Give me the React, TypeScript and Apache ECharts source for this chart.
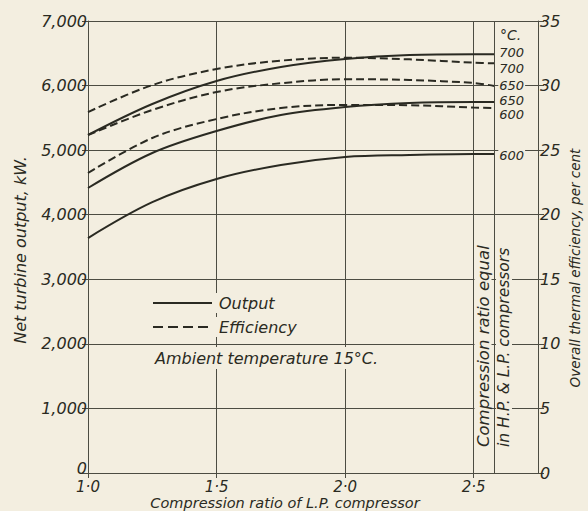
import React, { useEffect, useRef } from "react";
import * as echarts from "echarts";

// Compression ratio of L.P. compressor (x)
const ratios = [1.0, 1.25, 1.5, 1.75, 2.0, 2.25, 2.5, 2.58];
// Net turbine output, kW (left axis)
const output700 = [5235, 5715, 6071, 6288, 6412, 6473, 6484, 6484];
const output650 = [4414, 4956, 5296, 5544, 5668, 5730, 5745, 5745];
const output600 = [3639, 4194, 4553, 4770, 4894, 4925, 4940, 4940];
// Overall thermal efficiency, per cent (right axis)
const eff700 = [27.95, 30.04, 31.28, 31.93, 32.16, 32.03, 31.77, 31.72];
const eff650 = [26.17, 28.11, 29.5, 30.18, 30.49, 30.43, 30.2, 29.97];
const eff600 = [23.23, 25.94, 27.41, 28.26, 28.5, 28.48, 28.3, 28.26];

const xTickValues = [1.0, 1.5, 2.0, 2.5];
const equalRatio = 2.58;

const BG = "#f3eee0";
const INK = "#2a2a22";
const GRID = "#4c4c42";
const FONT = "DejaVu Sans";

const pts = (ys: number[]) => ratios.map((x, i) => [x, ys[i]]);

export default function App() {
  const ref = useRef<HTMLDivElement>(null);
  useEffect(() => {
    if (!ref.current) return;
    const chart = echarts.init(ref.current, null, { renderer: "svg" });
    const txt = { fontFamily: FONT, fontStyle: "italic" as const, fontSize: 16, color: INK };
    const endLabel = (t: string, dy: number) => ({
      show: true,
      formatter: t,
      distance: 4,
      offset: [0, dy],
      fontFamily: FONT,
      fontStyle: "italic",
      fontSize: 13,
      lineHeight: 10,
      color: INK,
      backgroundColor: BG,
      padding: [0, 1],
    });
    const solid = (name: string, data: number[], t: string, dy: number) => ({
      type: "line",
      name,
      data: pts(data),
      yAxisIndex: 0,
      smooth: 0.35,
      showSymbol: false,
      lineStyle: { color: INK, width: 2 },
      endLabel: endLabel(t, dy),
      z: 3,
    });
    const dashed = (name: string, data: number[], t: string, dy: number) => ({
      type: "line",
      name,
      data: pts(data),
      yAxisIndex: 1,
      smooth: 0.35,
      showSymbol: false,
      lineStyle: { color: INK, width: 2, type: [8, 4] },
      endLabel: endLabel(t, dy),
      z: 3,
    });
    const series: any[] = [
      solid("Output 700", output700, "700", -2),
      dashed("Efficiency 700", eff700, "700", 5),
      dashed("Efficiency 650", eff650, "650", 0),
      solid("Output 650", output650, "650", -2),
      dashed("Efficiency 600", eff600, "600", 6),
      solid("Output 600", output600, "600", 1),
    ];
    series[0].markLine = {
      silent: true,
      symbol: "none",
      label: { show: false },
      lineStyle: { color: GRID, width: 1, type: "solid" },
      data: [{ xAxis: equalRatio }],
    };

    chart.setOption({
      animation: false,
      backgroundColor: BG,
      grid: { left: 88, right: 50, top: 21, bottom: 38 },
      xAxis: {
        type: "value",
        min: 1.0,
        max: 2.75,
        interval: 0.25,
        axisLine: { show: true, lineStyle: { color: GRID, width: 1 } },
        axisTick: { show: true, length: 5, customValues: xTickValues, lineStyle: { color: GRID } },
        axisLabel: {
          ...txt,
          fontSize: 15,
          customValues: xTickValues,
          margin: 6,
          formatter: (v: number) => v.toFixed(1).replace(".", "·"),
        },
        splitLine: { show: true, lineStyle: { color: GRID, width: 1 } },
      },
      yAxis: [
        {
          type: "value",
          min: 0,
          max: 7000,
          interval: 1000,
          position: "left",
          axisLine: { show: true, lineStyle: { color: GRID, width: 1 } },
          axisTick: { show: true, length: 6, lineStyle: { color: GRID } },
          axisLabel: {
            ...txt,
            margin: 1,
            formatter: (v: number) => (v === 0 ? "{z|0}" : v.toLocaleString("en-US")),
            rich: { z: { fontFamily: FONT, fontStyle: "italic", fontSize: 16, color: INK, padding: [0, 0, 10, 0] } },
          },
          splitLine: { show: true, lineStyle: { color: GRID, width: 1 } },
        },
        {
          type: "value",
          min: 0,
          max: 35,
          interval: 5,
          position: "right",
          axisLine: { show: true, lineStyle: { color: GRID, width: 1 } },
          axisTick: { show: true, length: 6, lineStyle: { color: GRID } },
          axisLabel: { ...txt, margin: 2 },
          splitLine: { show: false },
        },
      ],
      series,
      graphic: [
        {
          type: "text",
          x: 20,
          y: 250,
          rotation: Math.PI / 2,
          style: { text: "Net turbine output, kW.", font: `italic 16px "${FONT}"`, fill: INK, align: "center", verticalAlign: "middle" },
        },
        {
          type: "text",
          x: 575,
          y: 268,
          rotation: Math.PI / 2,
          style: { text: "Overall thermal efficiency, per cent", font: `italic 13.5px "${FONT}"`, fill: INK, align: "center", verticalAlign: "middle" },
        },
        {
          type: "text",
          x: 285,
          y: 503,
          style: { text: "Compression ratio of L.P. compressor", font: `italic 14.5px "${FONT}"`, fill: INK, align: "center", verticalAlign: "middle" },
        },
        {
          type: "text",
          x: 483,
          y: 448,
          rotation: Math.PI / 2,
          z: 10,
          style: { text: "Compression ratio equal", font: `italic 16.5px "${FONT}"`, fill: INK, align: "left", verticalAlign: "middle", backgroundColor: BG, padding: [0, 1] },
        },
        {
          type: "text",
          x: 504,
          y: 448,
          rotation: Math.PI / 2,
          z: 10,
          style: { text: "in H.P. & L.P. compressors", font: `italic 15.5px "${FONT}"`, fill: INK, align: "left", verticalAlign: "middle", backgroundColor: BG, padding: [0, 1] },
        },
        {
          type: "text",
          x: 500,
          y: 35,
          z: 10,
          style: { text: "°C.", font: `italic 14px "${FONT}"`, fill: INK, align: "left", verticalAlign: "middle", backgroundColor: BG },
        },
        {
          type: "line",
          z: 10,
          shape: { x1: 153, y1: 303, x2: 212, y2: 303 },
          style: { stroke: INK, lineWidth: 2 },
        },
        {
          type: "line",
          z: 10,
          shape: { x1: 153, y1: 327, x2: 212, y2: 327 },
          style: { stroke: INK, lineWidth: 2, lineDash: [10, 5] },
        },
        {
          type: "text",
          x: 216,
          y: 303,
          z: 10,
          style: { text: "Output", font: `italic 16px "${FONT}"`, fill: INK, align: "left", verticalAlign: "middle", backgroundColor: BG, padding: [2, 3] },
        },
        {
          type: "text",
          x: 216,
          y: 327,
          z: 10,
          style: { text: "Efficiency", font: `italic 16px "${FONT}"`, fill: INK, align: "left", verticalAlign: "middle", backgroundColor: BG, padding: [2, 3] },
        },
        {
          type: "text",
          x: 152,
          y: 358,
          z: 10,
          style: { text: "Ambient temperature 15°C.", font: `italic 16px "${FONT}"`, fill: INK, align: "left", verticalAlign: "middle", backgroundColor: BG, padding: [3, 3] },
        },
      ],
    });
    return () => chart.dispose();
  }, []);
  return <div ref={ref} style={{ width: 588, height: 511, position: "absolute", left: 0, top: 0 }} />;
}
